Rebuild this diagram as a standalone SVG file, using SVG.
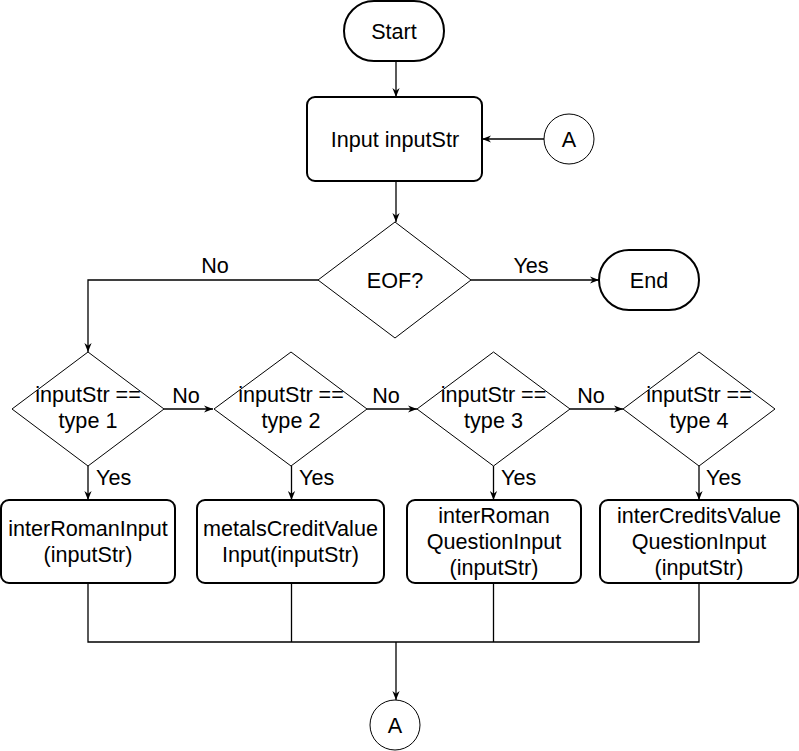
<svg xmlns="http://www.w3.org/2000/svg" width="799" height="751" viewBox="0 0 799 751">
<defs>
<style>
text{font-family:"Liberation Sans",Arial,Helvetica,sans-serif;font-size:21.6px;fill:#000}
.c{text-anchor:middle}
.thick{fill:#fff;stroke:#000;stroke-width:2}
.thin{fill:#fff;stroke:#000;stroke-width:1}
.ln{fill:none;stroke:#000;stroke-width:1.3}
</style>
<marker id="arr" viewBox="0 0 10 10" refX="10" refY="5" markerWidth="9" markerHeight="9" markerUnits="userSpaceOnUse" orient="auto">
<path d="M0,1 L10,5 L0,9 L3,5 z" fill="#000"/>
</marker>
</defs>
<rect width="799" height="751" fill="#fff"/>
<g id="connectors">
<path class="ln" d="M396,61 V97" marker-end="url(#arr)"/>
<path class="ln" d="M544,139 H482" marker-end="url(#arr)"/>
<path class="ln" d="M396,181 V222" marker-end="url(#arr)"/>
<path class="ln" d="M318,280 H88 V352" marker-end="url(#arr)"/>
<path class="ln" d="M471,280 H599" marker-end="url(#arr)"/>
<path class="ln" d="M164,409 H213" marker-end="url(#arr)"/>
<path class="ln" d="M367,409 H417" marker-end="url(#arr)"/>
<path class="ln" d="M570,409 H623" marker-end="url(#arr)"/>
<path class="ln" d="M88,466 V500" marker-end="url(#arr)"/>
<path class="ln" d="M291.5,466 V500" marker-end="url(#arr)"/>
<path class="ln" d="M493.5,466 V500" marker-end="url(#arr)"/>
<path class="ln" d="M699,466 V500" marker-end="url(#arr)"/>
<path class="ln" d="M88,583 V642 H699 V583"/>
<path class="ln" d="M291.5,583 V642"/>
<path class="ln" d="M493.5,583 V642"/>
<path class="ln" d="M396,642 V700" marker-end="url(#arr)"/>
<text class="c" x="215" y="273">No</text>
<text class="c" x="531" y="273">Yes</text>
<text class="c" x="186" y="403">No</text>
<text class="c" x="386" y="403">No</text>
<text class="c" x="591" y="403">No</text>
<text x="96" y="485">Yes</text>
<text x="299" y="485">Yes</text>
<text x="501" y="485">Yes</text>
<text x="706" y="485">Yes</text>
</g>
<g id="start">
<rect class="thick" x="344" y="1" width="100" height="60" rx="30"/>
<text class="c" x="394" y="39">Start</text>
</g>
<g id="input">
<rect class="thick" x="307" y="97" width="175" height="84" rx="8"/>
<text class="c" x="395" y="147">Input inputStr</text>
</g>
<g id="connA-top">
<circle class="thin" cx="569" cy="139" r="25"/>
<text class="c" x="569" y="147">A</text>
</g>
<g id="eof">
<polygon class="thin" points="318,280 395,222 471,280 395,338"/>
<text class="c" x="395" y="288">EOF?</text>
</g>
<g id="end">
<rect class="thick" x="599" y="250" width="100" height="60" rx="30"/>
<text class="c" x="649" y="288">End</text>
</g>
<g id="type1">
<polygon class="thin" points="12,409 88,352 164,409 88,466"/>
<text class="c" x="88" y="402">inputStr ==</text>
<text class="c" x="88" y="428">type 1</text>
</g>
<g id="type2">
<polygon class="thin" points="214,409 291,352 367,409 291,466"/>
<text class="c" x="291" y="402">inputStr ==</text>
<text class="c" x="291" y="428">type 2</text>
</g>
<g id="type3">
<polygon class="thin" points="417,409 493.5,352 570,409 493.5,466"/>
<text class="c" x="493.5" y="402">inputStr ==</text>
<text class="c" x="493.5" y="428">type 3</text>
</g>
<g id="type4">
<polygon class="thin" points="623,409 699,352 775,409 699,466"/>
<text class="c" x="699" y="402">inputStr ==</text>
<text class="c" x="699" y="428">type 4</text>
</g>
<g id="box1">
<rect class="thick" x="1" y="500" width="174" height="83" rx="8"/>
<text class="c" x="88" y="536">interRomanInput</text>
<text class="c" x="88" y="562">(inputStr)</text>
</g>
<g id="box2">
<rect class="thick" x="197" y="500" width="187" height="83" rx="8"/>
<text class="c" x="290.5" y="536">metalsCreditValue</text>
<text class="c" x="290.5" y="562">Input(inputStr)</text>
</g>
<g id="box3">
<rect class="thick" x="407" y="500" width="174" height="83" rx="8"/>
<text class="c" x="494" y="523">interRoman</text>
<text class="c" x="494" y="549">QuestionInput</text>
<text class="c" x="494" y="575">(inputStr)</text>
</g>
<g id="box4">
<rect class="thick" x="600" y="500" width="198" height="83" rx="8"/>
<text class="c" x="699" y="523">interCreditsValue</text>
<text class="c" x="699" y="549">QuestionInput</text>
<text class="c" x="699" y="575">(inputStr)</text>
</g>
<g id="connA-bottom">
<circle class="thin" cx="395" cy="725" r="25"/>
<text class="c" x="395" y="733">A</text>
</g>
</svg>
